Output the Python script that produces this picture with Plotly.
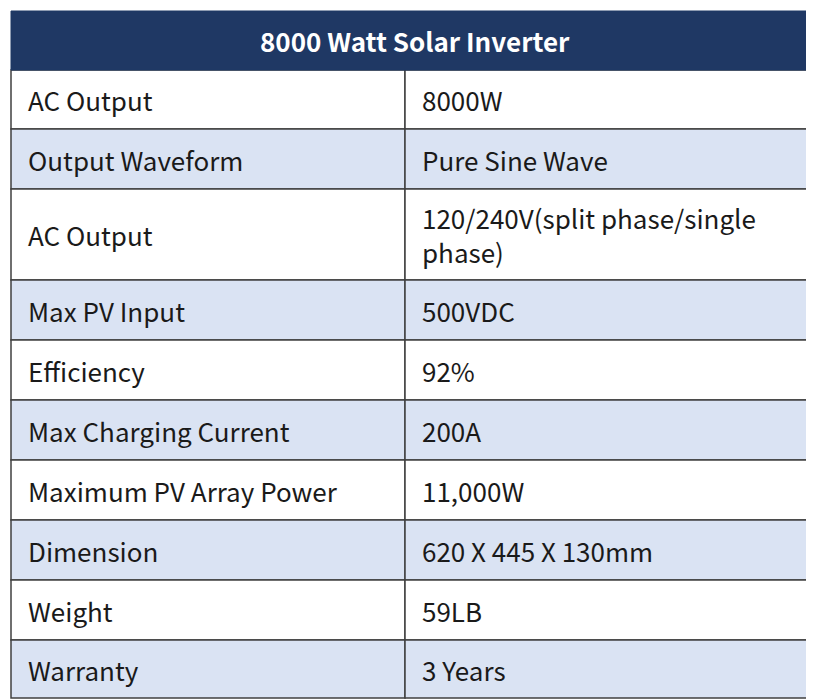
import plotly.graph_objects as go

title = "8000 Watt Solar Inverter"
specs = ["AC Output", "Output Waveform", "AC Output", "Max PV Input", "Efficiency",
         "Max Charging Current", "Maximum PV Array Power", "Dimension", "Weight", "Warranty"]
values = ["8000W", "Pure Sine Wave", "120/240V(split phase/single<br>phase)", "500VDC", "92%",
          "200A", "11,000W", "620 X 445 X 130mm", "59LB", "3 Years"]

font = "Noto Sans CJK SC"
X0, XM, X1 = 3, 397, 811
TOP, HEAD = 3, 59
row_h = [59, 60, 91, 60, 60, 60, 60, 60, 60, 58]

shapes, ann = [], []
shapes.append(dict(type="rect", x0=X0, x1=X1, y0=TOP, y1=TOP + HEAD, fillcolor="#1f3864",
                   line=dict(color="#1f3864", width=1)))
ann.append(dict(x=(X0 + X1) / 2, y=TOP + HEAD / 2, text=f"<b>{title}</b>", showarrow=False,
                font=dict(color="white", size=26, family=font), xanchor="center", yanchor="middle"))
y = TOP + HEAD
for i, (s, v) in enumerate(zip(specs, values)):
    h = row_h[i]
    fill = "#ffffff" if i % 2 == 0 else "#dae3f3"
    for a, b in [(X0, XM), (XM, X1)]:
        shapes.append(dict(type="rect", x0=a, x1=b, y0=y, y1=y + h, fillcolor=fill,
                           line=dict(color="#404040", width=1.5), layer="below"))
    for x, t in [(X0 + 15, s), (XM + 15, v)]:
        ann.append(dict(x=x, y=y + h / 2, text=t, showarrow=False, align="left",
                        font=dict(color="#1a1a1a", size=26, family=font),
                        xanchor="left", yanchor="middle"))
    y += h

fig = go.Figure()
fig.update_layout(width=814, height=700, margin=dict(l=0, r=0, t=0, b=0),
                  paper_bgcolor="white", plot_bgcolor="white", shapes=shapes, annotations=ann,
                  xaxis=dict(range=[0, 814], visible=False, fixedrange=True),
                  yaxis=dict(range=[700, 0], visible=False, fixedrange=True))
fig.write_html("out.html")
